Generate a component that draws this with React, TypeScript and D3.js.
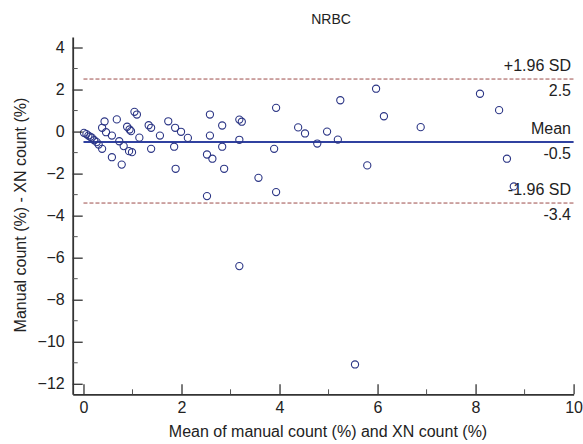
import { useEffect, useRef } from "react";
import * as d3 from "d3";

// mean of the two methods (x) and their difference (y)
const meanVals = [
  0.01, 0.06, 0.10, 0.14, 0.17, 0.22, 0.27, 0.31, 0.38,
  0.43, 0.38, 0.46, 0.58, 0.68, 0.58, 0.73, 0.82, 0.78, 0.89, 0.94, 0.97, 0.93, 0.99,
  1.04, 1.09, 1.14, 1.33, 1.38, 1.38, 1.56, 1.73, 1.87, 1.99, 2.13, 1.85, 1.88,
  2.58, 2.58, 2.83, 2.83, 2.52, 2.63, 2.87, 2.52, 3.18, 3.23, 3.18, 3.18,
  3.57, 3.93, 3.89, 3.93, 4.38, 4.52, 4.77, 4.97,
  5.19, 5.24, 5.54, 5.79, 5.97, 6.13, 6.88, 8.09, 8.48, 8.64, 8.78,
];
const diffVals = [
  -0.06, -0.12, -0.19, -0.25, -0.29, -0.41, -0.5, -0.62, -0.82,
  0.48, 0.18, -0.03, -0.19, 0.58, -1.22, -0.46, -0.69, -1.57, 0.23, 0.1, 0.02, -0.93, -0.98,
  0.94, 0.81, -0.29, 0.3, 0.18, -0.82, -0.19, 0.49, 0.18, -0.01, -0.3, -0.72, -1.77,
  0.81, -0.19, 0.29, -0.72, -1.09, -1.29, -1.77, -3.07, 0.57, 0.47, -0.39, -6.4,
  -2.2, 1.13, -0.82, -2.88, 0.2, -0.09, -0.57, 0.0,
  -0.38, 1.49, -11.08, -1.61, 2.04, 0.73, 0.21, 1.8, 1.02, -1.29, -2.61,
];

const lineValues = [2.5, -0.5, -3.4];
const lineNames = ["+1.96 SD", "Mean", "-1.96 SD"];
const lineLabels = ["2.5", "-0.5", "-3.4"];

const xTicks = [0, 2, 4, 6, 8, 10];
const xMinor = [1, 3, 5, 7, 9];
const yTicks = [4, 2, 0, -2, -4, -6, -8, -10, -12];
const yMinor = [3, 1, -1, -3, -5, -7, -9, -11];

export default function App() {
  const svgRef = useRef<SVGSVGElement>(null);

  useEffect(() => {
    const width = 583;
    const height = 444;
    const font = "'Liberation Sans', Arial, sans-serif";

    const x = d3.scaleLinear().domain([-0.22, 10]).range([72.7, 573.6]);
    const y = d3.scaleLinear().domain([-12.5, 4.5]).range([394.3, 37]);

    const svg = d3.select(svgRef.current)
      .attr("width", width)
      .attr("height", height)
      .attr("viewBox", [0, 0, width, height].join(" "));
    svg.selectAll("*").remove();

    svg.append("rect").attr("width", width).attr("height", height).attr("fill", "white");

    // reference lines
    lineValues.forEach((v, i) => {
      const mean = i === 1;
      svg.append("line")
        .attr("x1", x(0)).attr("x2", x(10))
        .attr("y1", y(v)).attr("y2", y(v))
        .attr("stroke", mean ? "#3041a0" : "#9c4c49")
        .attr("stroke-width", mean ? 2 : 1)
        .attr("stroke-dasharray", mean ? null : "4,2");
      svg.append("text")
        .attr("x", 571).attr("y", y(v) - 8)
        .attr("text-anchor", "end")
        .attr("font-family", font).attr("font-size", 16).attr("fill", "#222")
        .text(lineNames[i]);
      svg.append("text")
        .attr("x", 571).attr("y", y(v) + 17)
        .attr("text-anchor", "end")
        .attr("font-family", font).attr("font-size", 16).attr("fill", "#222")
        .text(lineLabels[i]);
    });

    // points
    svg.append("g")
      .selectAll("circle")
      .data(meanVals.map((m, i) => [m, diffVals[i]]))
      .join("circle")
      .attr("cx", d => x(d[0]))
      .attr("cy", d => y(d[1]))
      .attr("r", 3.6)
      .attr("fill", "none")
      .attr("stroke", "#2b3585")
      .attr("stroke-width", 1.1);

    // axes
    const xAxis = svg.append("g")
      .attr("transform", `translate(0,${y(-12.5)})`)
      .call(d3.axisBottom(x).tickValues(xTicks).tickSizeInner(-10).tickSizeOuter(0).tickPadding(7))
      .call(g => g.select(".domain").attr("stroke", "#333").attr("stroke-width", 1.8));
    xAxis.selectAll(".tick line").attr("stroke", "#333").attr("stroke-width", 1.3);
    xAxis.selectAll("text").attr("font-family", font).attr("font-size", 16).attr("fill", "#222");
    xAxis.append("g").selectAll("line").data(xMinor).join("line")
      .attr("x1", d => x(d)).attr("x2", d => x(d))
      .attr("y1", 0).attr("y2", -5)
      .attr("stroke", "#555").attr("stroke-width", 1);

    const yAxis = svg.append("g")
      .attr("transform", `translate(${x(-0.22)},0)`)
      .call(d3.axisLeft(y).tickValues(yTicks).tickSizeInner(-10).tickSizeOuter(0).tickPadding(8))
      .call(g => g.select(".domain").attr("stroke", "#333").attr("stroke-width", 1.8));
    yAxis.selectAll(".tick line").attr("stroke", "#333").attr("stroke-width", 1.3);
    yAxis.selectAll("text").attr("font-family", font).attr("font-size", 16).attr("fill", "#222");
    yAxis.append("g").selectAll("line").data(yMinor).join("line")
      .attr("x1", 0).attr("x2", 5)
      .attr("y1", d => y(d)).attr("y2", d => y(d))
      .attr("stroke", "#555").attr("stroke-width", 1);

    // titles
    svg.append("text")
      .attr("x", 331).attr("y", 24)
      .attr("text-anchor", "middle")
      .attr("font-family", font).attr("font-size", 14).attr("fill", "#222")
      .text("NRBC");
    svg.append("text")
      .attr("x", 328).attr("y", 437)
      .attr("text-anchor", "middle")
      .attr("font-family", font).attr("font-size", 16).attr("fill", "#222")
      .text("Mean of manual count (%) and XN count (%)");
    svg.append("text")
      .attr("transform", `translate(26,215) rotate(-90)`)
      .attr("text-anchor", "middle")
      .attr("font-family", font).attr("font-size", 16).attr("fill", "#222")
      .text("Manual count (%) - XN count (%)");
  }, []);

  return (
    <svg ref={svgRef} style={{ position: "absolute", left: 0, top: 0 }}></svg>
  );
}
